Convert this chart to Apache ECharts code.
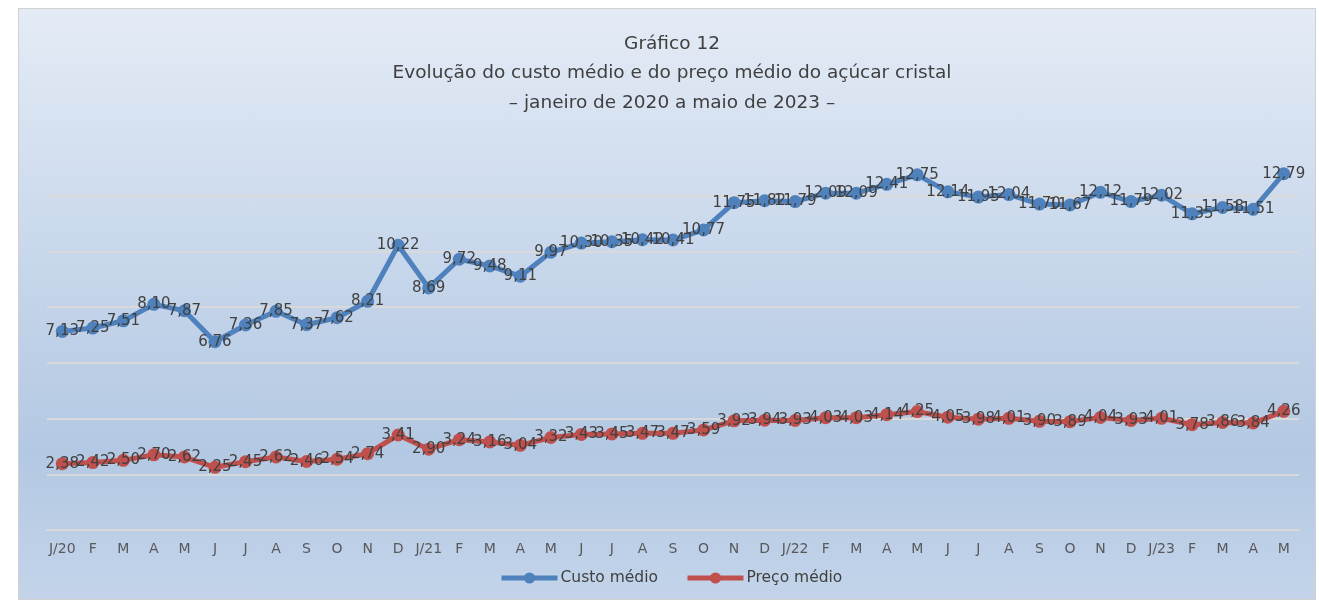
<!DOCTYPE html>
<html>
<head>
<meta charset="utf-8">
<script src="https://cdn.jsdelivr.net/npm/echarts@6/dist/echarts.min.js"></script>
<style>
  html, body { margin: 0; padding: 0; background: #fff; }
  #wrap { position: absolute; left: 18px; top: 8px; width: 1298px; height: 592px;
          border: 1px solid #d0d0d0; box-sizing: border-box;
          background: linear-gradient(to bottom, #e4ebf5 0%, #c9d8ec 40%, #b3c8e2 75%, #c3d4ea 100%); }
  #chart { position: absolute; left: -18px; top: -8px; width: 1319px; height: 605px; }
</style>
</head>
<body>
<div id="wrap"><div id="chart"></div></div>
<script>
// Gráfico 12 — custo médio vs preço médio do açúcar cristal, jan/2020 a mai/2023
const months = ['J/20','F','M','A','M','J','J','A','S','O','N','D',
  'J/21','F','M','A','M','J','J','A','S','O','N','D',
  'J/22','F','M','A','M','J','J','A','S','O','N','D',
  'J/23','F','M','A','M'];

const custoMedio = [7.13, 7.25, 7.51, 8.10, 7.87, 6.76, 7.36, 7.85, 7.37, 7.62, 8.21, 10.22,
  8.69, 9.72, 9.48, 9.11, 9.97, 10.30, 10.35, 10.42, 10.41, 10.77, 11.75, 11.82,
  11.79, 12.09, 12.09, 12.41, 12.75, 12.14, 11.95, 12.04, 11.70, 11.67, 12.12, 11.79,
  12.02, 11.35, 11.58, 11.51, 12.79];

const precoMedio = [2.38, 2.42, 2.50, 2.70, 2.62, 2.25, 2.45, 2.62, 2.46, 2.54, 2.74, 3.41,
  2.90, 3.24, 3.16, 3.04, 3.32, 3.43, 3.45, 3.47, 3.47, 3.59, 3.92, 3.94,
  3.93, 4.03, 4.03, 4.14, 4.25, 4.05, 3.98, 4.01, 3.90, 3.89, 4.04, 3.93,
  4.01, 3.78, 3.86, 3.84, 4.26];

const FONT = 'DejaVu Sans';
const fmt = p => p.value.toFixed(2).replace('.', ',');

function lineSeries(name, data, color) {
  return {
    name: name,
    type: 'line',
    data: data,
    symbol: 'circle',
    symbolSize: 13,
    lineStyle: { color: color, width: 5 },
    itemStyle: { color: color },
    label: {
      show: true,
      position: 'inside',
      formatter: fmt,
      color: '#404040',
      fontFamily: FONT,
      fontSize: 15
    },
    emphasis: { disabled: true }
  };
}

const chart = echarts.init(document.getElementById('chart'));
chart.setOption({
  backgroundColor: 'transparent',
  animation: false,
  title: {
    text: 'Gráfico 12\nEvolução do custo médio e do preço médio do açúcar cristal\n– janeiro de 2020 a maio de 2023 –',
    left: 666,
    textAlign: 'center',
    top: 23,
    textStyle: { fontFamily: FONT, fontSize: 18.5, fontWeight: 'normal', color: '#404040', lineHeight: 29.5 }
  },
  legend: {
    top: 564,
    left: 493,
    itemWidth: 56,
    itemHeight: 14,
    itemGap: 27,
    lineStyle: { width: 5 },
    textStyle: { fontFamily: FONT, fontSize: 15.5, color: '#404040', padding: [0, 0, 0, -2] },
    data: ['Custo médio', 'Preço médio']
  },
  grid: { left: 46, right: 21, top: 139, bottom: 76 },
  xAxis: {
    type: 'category',
    data: months,
    boundaryGap: true,
    axisLine: { show: true, lineStyle: { color: '#d9d9d9', width: 2 } },
    axisTick: { show: false },
    axisLabel: { fontFamily: FONT, fontSize: 14, color: '#595959', margin: 12, interval: 0 }
  },
  yAxis: {
    type: 'value',
    min: 0,
    max: 14,
    interval: 2,
    axisLabel: { show: false },
    axisLine: { show: false },
    axisTick: { show: false },
    splitLine: { show: true, showMaxLine: false, lineStyle: { color: '#d9d9d9', width: 2 } }
  },
  series: [
    lineSeries('Custo médio', custoMedio, '#4f81bd'),
    lineSeries('Preço médio', precoMedio, '#c0504d')
  ]
});
</script>
</body>
</html>
